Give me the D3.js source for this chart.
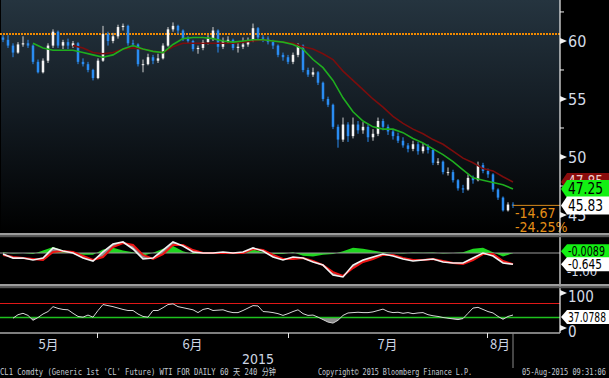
<!DOCTYPE html>
<html>
<head>
<meta charset="utf-8">
<script src="https://d3js.org/d3.v7.min.js"></script>
<style>
	body { margin: 0; background: #000; }
	svg { display: block; }
</style>
</head>
<body>
<div id="chart-area"></div>
<script>
// Price bars (240 min), open of each bar = previous close
let firstOpen = 60.3;
let closes = [60.1, 59.6, 59.0, 59.7, 59.8, 59.6, 58.2, 57.3, 58.3, 59.6,
	60.8, 59.6, 59.9, 59.6, 59.8, 58.2, 58.0, 57.5, 56.8, 58.3,
	60.6, 60.0, 60.4, 61.2, 61.3, 59.8, 59.7, 58.0, 58.0, 58.6,
	58.3, 58.5, 59.6, 61.0, 61.3, 60.9, 60.2, 60.0, 59.3, 59.4,
	59.9, 60.2, 60.9, 59.5, 60.0, 60.1, 59.4, 59.5, 59.7, 60.0,
	61.1, 60.3, 60.2, 59.9, 59.6, 58.8, 58.6, 58.2, 58.8, 59.6,
	57.5, 57.1, 57.3, 56.4, 55.0, 54.5, 52.6, 51.5, 52.8, 51.8,
	52.8, 52.3, 52.6, 51.7, 52.0, 53.1, 52.6, 52.2, 51.8, 51.4,
	51.0, 50.7, 51.1, 50.5, 50.9, 50.6, 49.5, 49.6, 48.7, 48.7,
	48.0, 47.3, 47.2, 48.2, 48.0, 49.3, 48.8, 48.5, 47.2, 46.5,
	45.4, 45.9, 45.83];
let highs = [60.5, 60.5, 59.8, 59.9, 60.4, 60.1, 59.7, 58.4, 58.5, 59.8,
	61.0, 60.9, 60.1, 60.2, 60.0, 59.9, 58.5, 58.2, 57.6, 58.5,
	61.3, 60.8, 60.7, 61.4, 61.5, 61.4, 60.1, 59.8, 58.4, 58.9,
	58.8, 58.9, 59.8, 61.2, 61.6, 61.4, 61.0, 60.4, 60.1, 59.6,
	60.1, 60.5, 61.2, 61.0, 60.3, 60.4, 60.2, 59.9, 60.3, 60.3,
	61.5, 61.2, 60.5, 60.4, 60.1, 59.7, 59.0, 58.8, 59.0, 59.8,
	59.7, 57.7, 57.7, 57.4, 56.5, 55.2, 54.6, 52.8, 53.4, 53.0,
	53.4, 53.1, 53.0, 52.8, 52.4, 53.4, 53.3, 52.8, 52.4, 52.1,
	51.7, 51.2, 51.4, 51.3, 51.2, 51.1, 50.7, 49.9, 49.7, 49.1,
	48.9, 48.1, 47.6, 48.5, 48.4, 49.6, 49.5, 49.0, 48.6, 47.3,
	46.6, 46.1, 46.1];
let lows = [59.9, 59.4, 58.6, 58.9, 59.5, 59.4, 58.0, 57.2, 57.2, 58.1,
	59.4, 59.4, 59.3, 59.3, 59.4, 58.0, 57.8, 57.3, 56.6, 56.7,
	58.2, 59.6, 59.8, 60.2, 60.9, 59.6, 59.5, 57.8, 57.3, 57.9,
	58.0, 58.1, 58.4, 59.5, 60.8, 60.6, 60.0, 59.8, 59.1, 58.9,
	59.2, 59.7, 60.0, 59.0, 59.3, 59.8, 59.2, 59.0, 59.3, 59.5,
	59.9, 60.1, 59.9, 59.7, 59.3, 58.6, 58.3, 58.0, 58.0, 58.6,
	57.3, 56.9, 56.9, 56.2, 54.8, 54.3, 52.4, 50.8, 51.3, 51.3,
	51.6, 52.0, 52.0, 51.3, 51.4, 51.8, 52.3, 51.9, 51.5, 51.2,
	50.8, 50.4, 50.5, 50.2, 50.3, 50.3, 49.3, 49.3, 48.5, 48.4,
	47.8, 47.1, 46.9, 47.1, 47.7, 47.9, 48.6, 48.2, 47.0, 46.3,
	45.3, 45.3, 45.6];

// Moving averages, one value every 2 bars
let maFastStart = 6;
let maFast = [59.8, 59.4, 59.2, 59.2, 59.2, 59.0, 58.8, 58.6, 58.8, 59.3,
	59.6, 59.3, 59.1, 59.0, 59.7, 60.2, 60.3, 60.3, 60.2, 60.0,
	59.9, 60.0, 60.1, 60.1, 60.0, 59.9, 59.7, 59.3, 58.4, 57.7,
	56.6, 55.1, 53.9, 53.1, 52.6, 52.4, 52.4, 52.1, 51.6, 51.2,
	50.7, 50.2, 49.6, 48.9, 48.2, 48.0, 47.8, 47.6, 47.25];
let maSlowStart = 14;
let maSlow = [59.6, 59.4, 59.0, 58.9, 59.0, 59.3, 59.4, 59.3, 59.1, 59.0,
	59.5, 59.8, 59.8, 59.8, 59.8, 59.8, 59.8, 59.9, 60.0, 60.1,
	60.0, 59.9, 59.8, 59.5, 59.3, 58.9, 58.4, 57.4, 56.6, 55.8,
	55.0, 54.3, 53.5, 52.9, 52.4, 52.0, 51.5, 51.1, 50.5, 49.9,
	49.5, 49.0, 48.8, 48.3, 47.85];
let refLevel = 60.6;
let lastPrice = 45.83;

// MACD, one value every 2 bars
let macdLine = [-0.06, -0.29, -0.29, -0.40, -0.29, 0.29, 0.11, 0.00, -0.29, -0.46,
	0.06, 0.51, 0.63, 0.23, -0.34, -0.29, 0.17, 0.63, 0.40, 0.06,
	0.00, 0.00, 0.06, 0.00, 0.06, 0.29, 0.11, -0.23, -0.40, -0.23,
	-0.29, -0.51, -0.69, -1.26, -1.37, -0.69, -0.40, -0.23, -0.06, -0.17,
	-0.34, -0.46, -0.40, -0.34, -0.51, -0.57, -0.57, -0.29, 0.00, -0.17,
	-0.57, -0.645];
let macdSignal = [-0.11, -0.23, -0.29, -0.34, -0.40, 0.06, 0.11, 0.06, -0.17, -0.40,
	-0.23, 0.34, 0.57, 0.46, -0.11, -0.34, -0.06, 0.46, 0.46, 0.17,
	0.00, 0.00, 0.00, 0.00, 0.00, 0.23, 0.17, -0.11, -0.34, -0.34,
	-0.29, -0.46, -0.69, -1.09, -1.31, -0.86, -0.51, -0.34, -0.11, -0.11,
	-0.29, -0.40, -0.40, -0.34, -0.46, -0.57, -0.63, -0.40, -0.06, -0.06,
	-0.46, -0.636];
let macdHist = [0.05, -0.03, 0.0, -0.05, 0.15, 0.35, 0.15, 0.02, -0.1, -0.1,
	0.2, 0.3, 0.15, 0.05, -0.15, 0.02, 0.25, 0.4, 0.1, -0.05,
	0.02, 0.02, 0.05, 0.02, 0.05, 0.2, 0.05, -0.05, -0.05, 0.05,
	-0.15, -0.2, -0.1, -0.05, 0.1, 0.3, 0.25, 0.15, 0.05, 0.0,
	-0.03, 0.03, 0.02, 0.03, -0.03, 0.0, 0.05, 0.25, 0.3, 0.05,
	-0.2, -0.0089];

// RSI, one value per bar
let rsiStart = 2;
let rsiValues = [28, 38, 42, 36, 22, 30, 40, 47, 61, 56,
	53, 52, 42, 33, 31, 37, 31, 50, 67, 64,
	61, 57, 53, 50, 50, 40, 33, 31, 50, 50,
	58, 67, 69, 61, 58, 55, 52, 44, 53, 56,
	50, 51, 52, 47, 44, 44, 50, 57, 64, 63,
	47, 46, 44, 41, 36, 41, 47, 52, 41, 36,
	37, 31, 24, 17, 14, 22, 36, 43, 44, 45,
	44, 44, 46, 50, 54, 47, 44, 45, 42, 44,
	41, 43, 44, 38, 35, 33, 30, 28, 26, 24,
	27, 42, 57, 59, 53, 47, 43, 33, 25, 33,
	37.0788];

let monthStarts = [18.8, 57, 96.8];
let monthLabels = ["5月", "6月", "7月", "8月"];
let priceTicks = [45, 50, 55, 60];
let priceMinor = [47.5, 52.5, 57.5, 62.5];
let rsiTicks = [0, 100];

let width = 609, height = 378;
let plotRight = 560;

let svg = d3.select("#chart-area")
	.append("svg")
	.attr("width", width)
	.attr("height", height)
	.style("font-family", "'Liberation Sans Narrow', 'DejaVu Sans Condensed', 'Liberation Sans', sans-serif");

svg.append("rect")
	.attr("width", width)
	.attr("height", height)
	.attr("fill", "#000");

let defs = svg.append("defs");
let grad = defs.append("linearGradient")
	.attr("id", "bg")
	.attr("x1", 0).attr("y1", 0)
	.attr("x2", 0).attr("y2", 1);
grad.append("stop").attr("offset", "0%").attr("stop-color", "#25343f");
grad.append("stop").attr("offset", "50%").attr("stop-color", "#121a21");
grad.append("stop").attr("offset", "100%").attr("stop-color", "#000");

defs.append("clipPath").attr("id", "clip-price")
	.append("rect").attr("x", 0).attr("y", 0).attr("width", plotRight).attr("height", 233);
defs.append("clipPath").attr("id", "clip-macd")
	.append("rect").attr("x", 0).attr("y", 237).attr("width", plotRight).attr("height", 47);

svg.append("rect")
	.attr("x", 1)
	.attr("y", 0)
	.attr("width", plotRight - 1)
	.attr("height", 233)
	.attr("fill", "url(#bg)");

// Scales
let x = d3.scaleLinear()
	.domain([0, closes.length - 1])
	.range([3, 513]);

let y = d3.scaleLinear()
	.domain([43.45, 63.53])
	.range([233, 0]);

let yMacd = d3.scaleLinear()
	.domain([-1, 0])
	.range([270.5, 253]);

let yRsi = d3.scaleLinear()
	.domain([0, 100])
	.range([328, 293]);

// ---------- Price panel ----------
let pricePanel = svg.append("g").attr("clip-path", "url(#clip-price)");

pricePanel.append("line")
	.attr("x1", 0).attr("x2", plotRight)
	.attr("y1", y(refLevel)).attr("y2", y(refLevel))
	.attr("stroke", "#f28a00")
	.attr("stroke-width", 2)
	.attr("stroke-dasharray", "2,1");

let bars = closes.map((c, i) => ({
	i: i,
	open: i ? closes[i - 1] : firstOpen,
	close: c,
	high: highs[i],
	low: lows[i]
}));

let candle = pricePanel.selectAll(".candle")
	.data(bars)
	.enter()
	.append("g")
	.attr("class", "candle");

candle.append("line")
	.attr("x1", (d) => x(d.i))
	.attr("x2", (d) => x(d.i))
	.attr("y1", (d) => y(d.high))
	.attr("y2", (d) => y(d.low))
	.attr("stroke", (d) => d.close >= d.open ? "#d0d0d0" : "#2a8cf2")
	.attr("stroke-width", 1);

candle.append("rect")
	.attr("x", (d) => x(d.i) - 1.25)
	.attr("width", 2.5)
	.attr("y", (d) => y(Math.max(d.open, d.close)))
	.attr("height", (d) => Math.max(1, Math.abs(y(d.open) - y(d.close))))
	.attr("fill", (d) => d.close >= d.open ? "#f4f4f4" : "#2a8cf2");

let maLine = (start) => d3.line()
	.x((d, k) => x(start + 2 * k))
	.y((d) => y(d));

pricePanel.append("path")
	.attr("d", maLine(maSlowStart)(maSlow))
	.attr("fill", "none")
	.attr("stroke", "#7c0d0d")
	.attr("stroke-width", 1.6);

pricePanel.append("path")
	.attr("d", maLine(maFastStart)(maFast))
	.attr("fill", "none")
	.attr("stroke", "#1fae1f")
	.attr("stroke-width", 1.6);

svg.append("line")
	.attr("x1", x(closes.length - 1)).attr("x2", plotRight)
	.attr("y1", y(lastPrice)).attr("y2", y(lastPrice))
	.attr("stroke", "#d88a1c")
	.attr("stroke-width", 1);

svg.append("text")
	.attr("x", 515)
	.attr("y", 218)
	.attr("font-size", "14px")
	.attr("fill", "#e58f17")
	.text("-14.67");

svg.append("text")
	.attr("x", 515)
	.attr("y", 232)
	.attr("font-size", "14px")
	.attr("fill", "#e58f17")
	.text("-24.25%");

// ---------- MACD panel ----------
let macdPanel = svg.append("g").attr("clip-path", "url(#clip-macd)");

macdPanel.append("path")
	.attr("d", d3.area()
		.x((d, k) => x(2 * k))
		.y0(yMacd(0))
		.y1((d) => yMacd(d))(macdHist))
	.attr("fill", "#1fd61f");

macdPanel.append("line")
	.attr("x1", 0).attr("x2", plotRight)
	.attr("y1", yMacd(0)).attr("y2", yMacd(0))
	.attr("stroke", "#9a9a9a")
	.attr("stroke-width", 1);

macdPanel.append("path")
	.attr("d", d3.area()
		.x((d, k) => x(2 * k))
		.y0((d, k) => yMacd(macdSignal[k]))
		.y1((d) => yMacd(d))(macdLine))
	.attr("fill", "#8e8e8e");

macdPanel.append("path")
	.attr("d", d3.line().x((d, k) => x(2 * k)).y((d) => yMacd(d))(macdSignal))
	.attr("fill", "none")
	.attr("stroke", "#ee1515")
	.attr("stroke-width", 2);

macdPanel.append("path")
	.attr("d", d3.line().x((d, k) => x(2 * k)).y((d) => yMacd(d))(macdLine))
	.attr("fill", "none")
	.attr("stroke", "#f2f2f2")
	.attr("stroke-width", 1.6);

// ---------- RSI panel ----------
defs.append("clipPath").attr("id", "clip-low")
	.append("rect").attr("x", 0).attr("y", yRsi(30)).attr("width", plotRight).attr("height", 20);

svg.append("path")
	.attr("clip-path", "url(#clip-low)")
	.attr("d", d3.area()
		.x((d, k) => x(rsiStart + k))
		.y0(yRsi(30))
		.y1((d) => yRsi(d))(rsiValues))
	.attr("fill", "#8a8a8a");

svg.append("line")
	.attr("x1", 0).attr("x2", plotRight)
	.attr("y1", yRsi(70)).attr("y2", yRsi(70))
	.attr("stroke", "#e01818")
	.attr("stroke-width", 1);

svg.append("line")
	.attr("x1", 0).attr("x2", plotRight)
	.attr("y1", yRsi(30)).attr("y2", yRsi(30))
	.attr("stroke", "#1ec21e")
	.attr("stroke-width", 1.6);

svg.append("path")
	.attr("d", d3.line().x((d, k) => x(rsiStart + k)).y((d) => yRsi(d))(rsiValues))
	.attr("fill", "none")
	.attr("stroke", "#d6d6d6")
	.attr("stroke-width", 1);

// ---------- Right axes ----------
svg.append("line")
	.attr("x1", plotRight).attr("x2", plotRight)
	.attr("y1", 0).attr("y2", 333)
	.attr("stroke", "#f0f0f0")
	.attr("stroke-width", 1.2);

let marker = (yy) => "M" + plotRight + "," + (yy - 3) + " L" + (plotRight + 7) + "," + yy +
	" L" + plotRight + "," + (yy + 3) + " Z";

svg.selectAll(".price-tri")
	.data(priceTicks)
	.enter()
	.append("path")
	.attr("d", (d) => marker(y(d)))
	.attr("fill", "#f0f0f0");

svg.selectAll(".price-minor")
	.data(priceMinor)
	.enter()
	.append("line")
	.attr("x1", plotRight).attr("x2", plotRight + 4)
	.attr("y1", (d) => y(d)).attr("y2", (d) => y(d))
	.attr("stroke", "#f0f0f0");

let yAxisCall = d3.axisRight(y)
	.tickValues(priceTicks)
	.tickSize(0)
	.tickPadding(8)
	.tickFormat((d) => d);
let yAxisG = svg.append("g")
	.attr("transform", "translate(" + plotRight + ",0)")
	.call(yAxisCall);
yAxisG.select(".domain").remove();
yAxisG.selectAll("text")
	.attr("font-size", "16px")
	.attr("font-family", "'Liberation Sans Narrow', 'DejaVu Sans Condensed', sans-serif")
	.attr("fill", "#d3dbe6");

svg.append("text")
	.attr("x", 567)
	.attr("y", yMacd(-1) + 1)
	.attr("dy", "0.36em")
	.attr("font-size", "13px")
	.attr("fill", "#d3dbe6")
	.text("-1.00");

svg.selectAll(".rsi-tri")
	.data(rsiTicks)
	.enter()
	.append("path")
	.attr("d", (d) => marker(yRsi(d)))
	.attr("fill", "#f0f0f0");

svg.selectAll(".rsi-label")
	.data(rsiTicks)
	.enter()
	.append("text")
	.attr("x", 568)
	.attr("y", (d) => yRsi(d) + 4)
	.attr("dy", "0.36em")
	.attr("font-size", "15px")
	.attr("fill", "#d3dbe6")
	.text((d) => d);

// value boxes on the right
const valueBox = (cy, h, fill, color, label, size, len) => {
	svg.append("path")
		.attr("d", "M" + (plotRight + 1) + "," + cy + " L" + (plotRight + 7) + "," + (cy - h / 2) +
			" L" + width + "," + (cy - h / 2) + " L" + width + "," + (cy + h / 2) +
			" L" + (plotRight + 7) + "," + (cy + h / 2) + " Z")
		.attr("fill", fill);
	let t = svg.append("text")
		.attr("x", plotRight + 8)
		.attr("y", cy)
		.attr("dy", "0.36em")
		.attr("font-size", size)
		.attr("fill", color)
		.text(label);
	if (len) t.attr("textLength", len).attr("lengthAdjust", "spacingAndGlyphs");
};

valueBox(y(maSlow[maSlow.length - 1]), 18, "#8a0c0c", "#f0d0d0", "47.85", "15px", 35);
valueBox(y(maFast[maFast.length - 1]), 18, "#13f013", "#000", "47.25", "15px", 35);
valueBox(y(lastPrice), 18, "#ffffff", "#000", "45.83", "15px", 35);
valueBox(yMacd(macdHist[macdHist.length - 1]) - 2, 14, "#13f013", "#000", "-0.0089", "14px", 37);
valueBox(yMacd(macdLine[macdLine.length - 1]), 14, "#ffffff", "#000", "-0.645", "14px", 34);
valueBox(yRsi(rsiValues[rsiValues.length - 1]) + 2, 14, "#ffffff", "#000", "37.0788", "14px", 38);

// ---------- Separators ----------
[233, 284].forEach((sy) => {
	svg.append("rect")
		.attr("x", 0).attr("y", sy)
		.attr("width", width).attr("height", 2.6)
		.attr("fill", "#9c9c9c");
	svg.append("rect")
		.attr("x", 0).attr("y", sy + 2.6)
		.attr("width", width).attr("height", 1.6)
		.attr("fill", "#555");
});

// ---------- X axis ----------
svg.append("line")
	.attr("x1", 0).attr("x2", plotRight)
	.attr("y1", 333).attr("y2", 333)
	.attr("stroke", "#a8a8a8")
	.attr("stroke-width", 1.6);

let xAxisCall = d3.axisBottom(x)
	.tickValues(monthStarts)
	.tickSize(5)
	.tickFormat("");
let xAxisG = svg.append("g")
	.attr("transform", "translate(0,333)")
	.call(xAxisCall);
xAxisG.select(".domain").remove();
xAxisG.selectAll("line").attr("stroke", "#e8e8e8");

svg.append("line")
	.attr("x1", x(closes.length - 1)).attr("x2", x(closes.length - 1))
	.attr("y1", 333).attr("y2", 368)
	.attr("stroke", "#8a8a8a")
	.attr("stroke-width", 1);

let bounds = [-0.6].concat(monthStarts, [closes.length - 1]);
monthLabels.forEach((label, i) => {
	svg.append("text")
		.attr("x", x((bounds[i] + bounds[i + 1]) / 2))
		.attr("y", 349)
		.attr("text-anchor", "middle")
		.attr("font-family", "'Noto Sans CJK SC', sans-serif")
		.attr("font-size", "13px")
		.attr("fill", "#cdd6e4")
		.text(label);
});

svg.append("text")
	.attr("x", (x(0) + x(closes.length - 1)) / 2)
	.attr("y", 364)
	.attr("text-anchor", "middle")
	.attr("font-size", "14px")
	.attr("fill", "#cdd6e4")
	.text("2015");

// ---------- Footer ----------
let footer = [
	{ x: 0, len: 276, text: "CL1 Comdty (Generic 1st 'CL' Future) WTI FOR DAILY 60 天 240 分钟" },
	{ x: 318, len: 154, text: "Copyright© 2015 Bloomberg Finance L.P." },
	{ x: 522, len: 84, text: "05-Aug-2015 09:31:06" }
];
footer.forEach((f) => {
	svg.append("text")
		.attr("x", f.x)
		.attr("y", 375)
		.attr("font-family", "'DejaVu Sans Mono', 'Noto Sans CJK SC', monospace")
		.attr("font-size", "9px")
		.attr("fill", "#c4cbd3")
		.attr("textLength", f.len)
		.attr("lengthAdjust", "spacingAndGlyphs")
		.text(f.text);
});
</script>
</body>
</html>
